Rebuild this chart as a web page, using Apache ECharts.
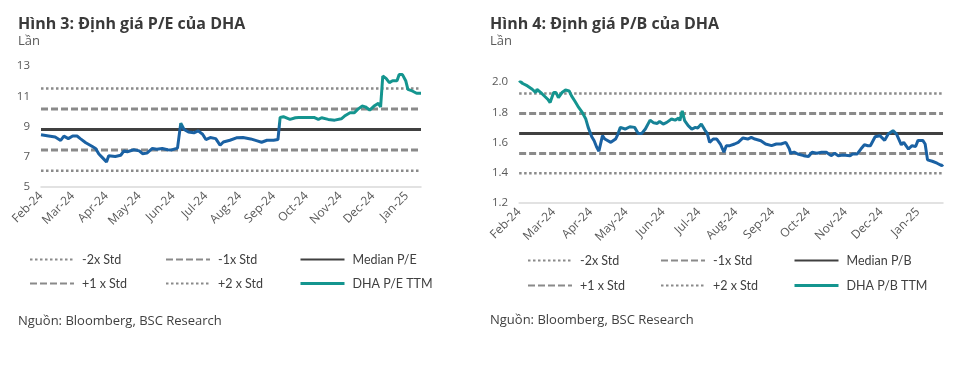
<!DOCTYPE html>
<html>
<head>
<meta charset="utf-8">
<script src="https://cdn.jsdelivr.net/npm/echarts@6/dist/echarts.min.js"></script>
<style>
html,body{margin:0;padding:0;background:#fff;}
#c1{position:absolute;left:0;top:0;width:486px;height:366px;}
#c2{position:absolute;left:486px;top:0;width:486px;height:366px;}
</style>
</head>
<body>
<div id="c1"></div>
<div id="c2"></div>
<script>
// ---- tick labels ----
const monthLabels = ['Feb-24','Mar-24','Apr-24','May-24','Jun-24','Jul-24','Aug-24','Sep-24','Oct-24','Nov-24','Dec-24','Jan-25'];

// ---- P/E series (DHA P/E TTM) ----
const peDates = ['2024-02-01','2024-02-08','2024-02-14','2024-02-19','2024-02-22','2024-02-26','2024-03-01','2024-03-05','2024-03-08','2024-03-13','2024-03-19','2024-03-22','2024-03-25','2024-03-28','2024-04-01','2024-04-03','2024-04-04','2024-04-09','2024-04-14','2024-04-17','2024-04-20','2024-04-26','2024-05-01','2024-05-04','2024-05-08','2024-05-13','2024-05-17','2024-05-22','2024-05-27','2024-05-30','2024-06-05','2024-06-06','2024-06-08','2024-06-11','2024-06-15','2024-06-20','2024-06-24','2024-06-28','2024-07-01','2024-07-05','2024-07-10','2024-07-12','2024-07-14','2024-07-17','2024-07-23','2024-07-29','2024-08-04','2024-08-11','2024-08-17','2024-08-21','2024-08-26','2024-09-01','2024-09-05','2024-09-07','2024-09-10','2024-09-16','2024-09-21','2024-09-24','2024-09-30','2024-10-08','2024-10-12','2024-10-15','2024-10-21','2024-10-27','2024-11-02','2024-11-05','2024-11-10','2024-11-14','2024-11-17','2024-11-21','2024-11-24','2024-11-28','2024-12-02','2024-12-06','2024-12-08','2024-12-10','2024-12-13','2024-12-16','2024-12-19','2024-12-23','2024-12-25','2024-12-28','2024-12-31','2025-01-02','2025-01-06','2025-01-10','2025-01-14'];
const peValues = [8.45,8.37,8.30,8.08,8.36,8.20,8.37,8.37,8.20,7.93,7.68,7.55,7.18,6.96,6.66,7.07,7.13,7.02,7.10,7.39,7.33,7.46,7.39,7.20,7.24,7.55,7.50,7.55,7.46,7.44,7.57,7.61,9.22,8.80,8.64,8.58,8.71,8.49,8.14,8.27,8.20,7.98,7.76,7.98,8.09,8.25,8.27,8.18,8.05,7.96,8.09,8.09,8.14,9.60,9.65,9.47,9.58,9.60,9.60,9.60,9.47,9.58,9.47,9.42,9.51,9.69,9.91,9.91,10.13,10.35,10.30,10.09,10.35,10.53,10.30,12.34,12.18,11.90,12.03,12.03,12.43,12.43,12.03,11.46,11.35,11.20,11.20];
const peBandNames = ['-2x Std','-1x Std','Median P/E','+1 x Std','+2 x Std'];
const peBandValues = [6.08,7.44,8.80,10.16,11.52];

// ---- P/B series (DHA P/B TTM) ----
const pbDates = ['2024-02-01','2024-02-04','2024-02-08','2024-02-12','2024-02-15','2024-02-16','2024-02-20','2024-02-25','2024-02-27','2024-03-01','2024-03-03','2024-03-05','2024-03-08','2024-03-11','2024-03-14','2024-03-16','2024-03-19','2024-03-22','2024-03-25','2024-03-28','2024-03-30','2024-04-02','2024-04-04','2024-04-06','2024-04-08','2024-04-11','2024-04-13','2024-04-18','2024-04-22','2024-04-24','2024-04-26','2024-04-30','2024-05-04','2024-05-08','2024-05-11','2024-05-14','2024-05-17','2024-05-21','2024-05-24','2024-05-27','2024-05-29','2024-06-01','2024-06-04','2024-06-08','2024-06-11','2024-06-14','2024-06-15','2024-06-17','2024-06-19','2024-06-22','2024-06-25','2024-06-28','2024-06-30','2024-07-03','2024-07-06','2024-07-08','2024-07-10','2024-07-13','2024-07-16','2024-07-19','2024-07-22','2024-07-24','2024-07-27','2024-07-31','2024-08-03','2024-08-07','2024-08-11','2024-08-14','2024-08-17','2024-08-22','2024-08-26','2024-08-31','2024-09-04','2024-09-08','2024-09-12','2024-09-15','2024-09-16','2024-09-19','2024-09-22','2024-09-27','2024-10-01','2024-10-04','2024-10-08','2024-10-12','2024-10-16','2024-10-20','2024-10-23','2024-10-26','2024-10-30','2024-11-05','2024-11-07','2024-11-11','2024-11-14','2024-11-17','2024-11-20','2024-11-22','2024-11-26','2024-11-30','2024-12-04','2024-12-07','2024-12-11','2024-12-14','2024-12-18','2024-12-20','2024-12-24','2024-12-27','2024-12-30','2025-01-01','2025-01-05','2025-01-07','2025-01-09','2025-01-13','2025-01-17','2025-01-21','2025-01-22'];
const pbValues = [2.01,1.99,1.974,1.952,1.93,1.952,1.924,1.886,1.864,1.93,1.93,1.897,1.93,1.947,1.941,1.908,1.871,1.832,1.799,1.755,1.70,1.638,1.612,1.572,1.542,1.645,1.623,1.601,1.623,1.656,1.70,1.689,1.704,1.70,1.66,1.66,1.689,1.748,1.73,1.726,1.739,1.722,1.733,1.755,1.748,1.762,1.744,1.81,1.744,1.711,1.689,1.70,1.696,1.722,1.682,1.66,1.601,1.623,1.623,1.59,1.536,1.579,1.579,1.59,1.601,1.63,1.623,1.634,1.623,1.612,1.59,1.579,1.59,1.59,1.601,1.557,1.529,1.536,1.524,1.513,1.507,1.536,1.529,1.536,1.536,1.513,1.529,1.513,1.518,1.513,1.524,1.524,1.557,1.585,1.579,1.579,1.638,1.645,1.614,1.656,1.678,1.656,1.585,1.601,1.557,1.579,1.574,1.614,1.614,1.59,1.485,1.476,1.463,1.447,1.455];
const pbBandNames = ['-2x Std','-1x Std','Median P/B','+1 x Std','+2 x Std'];
const pbBandValues = [1.396,1.528,1.660,1.792,1.924];

const FONT = '"Open Sans", "Noto Sans", sans-serif';
const LEGEND_FONT = 'Lato, "Open Sans", sans-serif';
const TEAL = '#14958f';
const BLUE = '#1a61a3';

function dayRange(start, end) {
  const out = [];
  let t = Date.UTC(+start.slice(0,4), +start.slice(5,7)-1, +start.slice(8,10));
  const te = Date.UTC(+end.slice(0,4), +end.slice(5,7)-1, +end.slice(8,10));
  while (t <= te) { out.push(new Date(t).toISOString().slice(0,10)); t += 86400000; }
  return out;
}
function monthLabel(val) {
  const y = +val.slice(0,4), m = +val.slice(5,7);
  return monthLabels[(y-2024)*12 + m - 2] || '';
}

const bandStyles = [
  {type:[2.5,2.5], width:2.5, color:'#8a8a8a'},
  {type:[7,3], width:3, color:'#8a8a8a'},
  {type:'solid', width:3, color:'#404040'},
  {type:[7,3], width:3, color:'#8a8a8a'},
  {type:[2.5,2.5], width:2.5, color:'#8a8a8a'}
];

function build(el, cfg) {
  const chart = echarts.init(document.getElementById(el), null, {renderer:'canvas'});
  const days = dayRange(cfg.dates[0], cfg.dates[cfg.dates.length-1]);
  const first = days[0], last = days[days.length-1];
  const series = cfg.bandNames.map((n, i) => ({
    name: n, type: 'line', symbol: 'none', silent: true,
    lineStyle: bandStyles[i], itemStyle: {color: bandStyles[i].color},
    data: [[first, cfg.bandValues[i]], [last, cfg.bandValues[i]]],
    z: 2
  }));
  series.push({
    name: cfg.lineName, type: 'line', symbol: 'none', smooth: false,
    itemStyle: {color: TEAL},
    lineStyle: {width: 3, color: new echarts.graphic.LinearGradient(0,0,0,1, cfg.stops)},
    data: cfg.dates.map((d, i) => [d, cfg.values[i]]),
    z: 3
  });
  const legendText = {color:'#404040', fontSize:12.5, fontFamily:LEGEND_FONT, padding:[0,0,0,3]};
  const mkLegend = (left, names) => ({
    orient: 'vertical', left: left, top: cfg.legendTop, padding: 0,
    itemWidth: 44, itemHeight: 14, itemGap: cfg.legendGap,
    itemStyle: {opacity: 0},
    textStyle: legendText,
    data: names.map(n => n === cfg.lineName ? {name:n, lineStyle:{color:TEAL, width:3}} : {name:n})
  });
  const b = cfg.bandNames;
  chart.setOption({
    animation: false,
    title: [
      {text: cfg.title, left: cfg.textLeft, top: 16, padding: 0,
       textStyle: {fontSize: 16, fontWeight: 'bold', color: '#3a3a3a', fontFamily: FONT}},
      {text: 'Lần', left: cfg.textLeft, top: 35, padding: 0,
       textStyle: {fontSize: 13, fontWeight: 'normal', color: '#595959', fontFamily: FONT}},
      {text: 'Nguồn: Bloomberg, BSC Research', left: cfg.textLeft, top: cfg.sourceTop, padding: 0,
       textStyle: {fontSize: 13, fontWeight: 'normal', color: '#404040', fontFamily: FONT}}
    ],
    legend: [
      mkLegend(cfg.legendCols[0], [b[0], b[3]]),
      mkLegend(cfg.legendCols[1], [b[1], b[4]]),
      mkLegend(cfg.legendCols[2], [b[2], cfg.lineName])
    ],
    grid: {left: cfg.gridLeft, right: cfg.gridRight, top: cfg.gridTop, height: 121, containLabel: false},
    xAxis: {
      type: 'category', boundaryGap: false, data: days,
      axisLine: {lineStyle: {color: '#d9d9d9', width: 1.5}},
      axisTick: {show: false},
      axisLabel: {
        interval: (i, v) => v.slice(8) === '01',
        formatter: v => monthLabel(v),
        rotate: 45, margin: 7, color: '#595959', fontSize: 12, fontFamily: FONT
      },
      splitLine: {show: false}
    },
    yAxis: {
      type: 'value', min: cfg.yMin, max: cfg.yMax, interval: cfg.yInterval,
      axisLine: {show: false}, axisTick: {show: false}, splitLine: {show: false},
      axisLabel: {margin: 11, color: '#595959', fontSize: 11.5, fontFamily: FONT,
                  formatter: v => cfg.decimals ? v.toFixed(cfg.decimals) : String(v)}
    },
    series: series
  });
}

build('c1', {
  title: 'Hình 3: Định giá P/E của DHA', lineName: 'DHA P/E TTM',
  dates: peDates, values: peValues, bandNames: peBandNames, bandValues: peBandValues,
  stops: [{offset:0,color:TEAL},{offset:0.5,color:TEAL},{offset:0.62,color:BLUE},{offset:1,color:BLUE}],
  textLeft: 18, sourceTop: 315,
  gridLeft: 41, gridRight: 65, gridTop: 66,
  yMin: 5, yMax: 13, yInterval: 2, decimals: 0,
  legendTop: 253, legendGap: 11, legendCols: [29, 165, 299]
});
build('c2', {
  title: 'Hình 4: Định giá P/B của DHA', lineName: 'DHA P/B TTM',
  dates: pbDates, values: pbValues, bandNames: pbBandNames, bandValues: pbBandValues,
  stops: [{offset:0,color:TEAL},{offset:0.42,color:TEAL},{offset:0.64,color:BLUE},{offset:1,color:BLUE}],
  textLeft: 4, sourceTop: 314,
  gridLeft: 29, gridRight: 29, gridTop: 82,
  yMin: 1.2, yMax: 2.0, yInterval: 0.2, decimals: 1,
  legendTop: 254, legendGap: 12, legendCols: [41, 174, 307]
});
</script>
</body>
</html>
